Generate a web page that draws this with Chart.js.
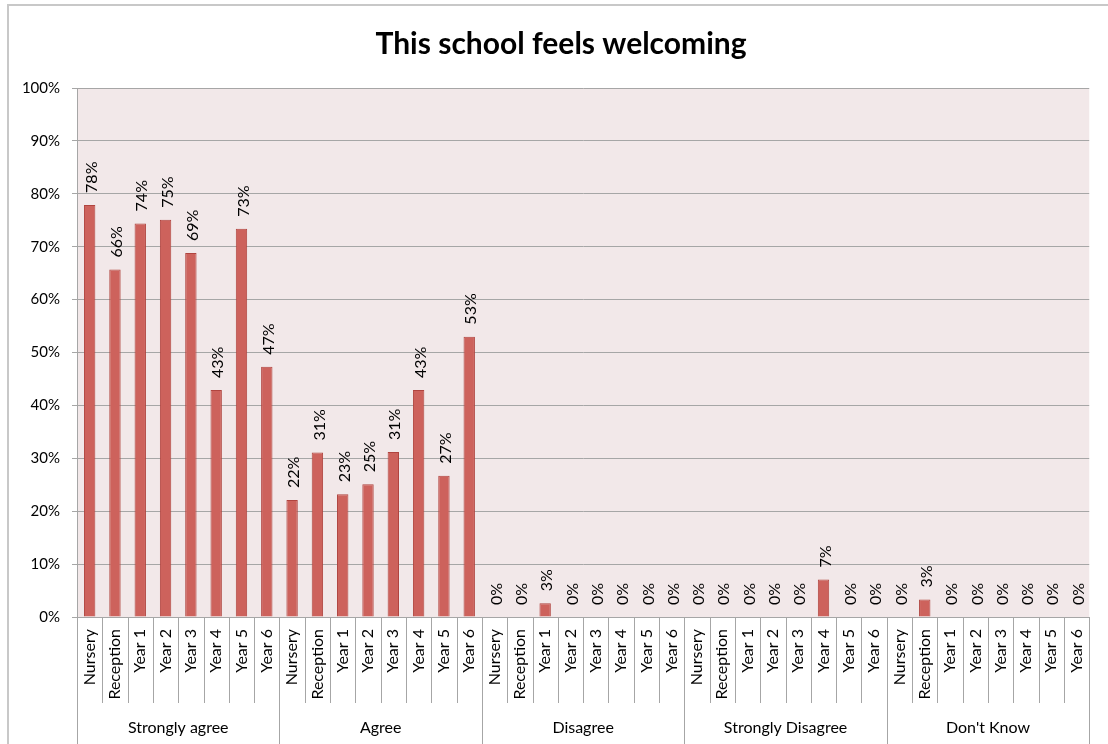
<!DOCTYPE html>
<html>
<head>
<meta charset="utf-8">
<script src="https://cdn.jsdelivr.net/npm/chart.js@4/dist/chart.umd.min.js"></script>
<style>
  html, body { margin: 0; padding: 0; background: #ffffff; overflow: hidden; }
  #wrap { position: relative; width: 1108px; height: 744px; }
  #frame { position: absolute; left: 7px; top: 4px; width: 1300px; height: 900px; border: 2px solid #C8C8C8; box-sizing: border-box; }
  canvas { position: absolute; left: 0; top: 0; }
</style>
</head>
<body>
<div id="wrap">
  <div id="frame"></div>
  <canvas id="c" width="1108" height="744"></canvas>
</div>
<script>
// ---- Data ----
const title = "This school feels welcoming";
const groups = ["Strongly agree", "Agree", "Disagree", "Strongly Disagree", "Don't Know"];
const years = ["Nursery", "Reception", "Year 1", "Year 2", "Year 3", "Year 4", "Year 5", "Year 6"];
const stronglyAgree   = [77.9, 65.7, 74.4, 75.1, 68.8, 42.9, 73.4, 47.3];
const agree           = [22.1, 31.1, 23.2, 25.1, 31.2, 42.9, 26.7, 53.0];
const disagree        = [0, 0, 2.6, 0, 0, 0, 0, 0];
const stronglyDisagree= [0, 0, 0, 0, 0, 7.1, 0, 0];
const dontKnow        = [0, 3.3, 0, 0, 0, 0, 0, 0];
const yTicks = [0, 10, 20, 30, 40, 50, 60, 70, 80, 90, 100];

const seriesByGroup = [stronglyAgree, agree, disagree, stronglyDisagree, dontKnow];
const labels = [];
const values = [];
seriesByGroup.forEach(arr => { years.forEach((y, i) => { labels.push(y); values.push(arr[i]); }); });

const FONT = "Lato, 'Open Sans', sans-serif";
const GRID = '#A6A6A6';

const titleShift = {
  id: 'titleShift',
  afterLayout(chart) {
    if (chart.titleBlock) { chart.titleBlock.left = 32; }
  }
};

const plotBg = {
  id: 'plotBg',
  beforeDraw(chart) {
    const { ctx, chartArea: a } = chart;
    ctx.save();
    ctx.fillStyle = '#F2E8E9';
    ctx.fillRect(a.left, a.top, a.right - a.left, a.bottom - a.top);
    ctx.restore();
  }
};

const separators = {
  id: 'separators',
  afterDraw(chart) {
    const { ctx, chartArea: a } = chart;
    const x = chart.scales.x;
    const n = labels.length;
    const w = (a.right - a.left) / n;
    ctx.save();
    ctx.strokeStyle = GRID;
    ctx.lineWidth = 1;
    for (let i = 0; i <= n; i++) {
      const px = Math.round(x.getPixelForValue(0) - w / 2 + i * w) + 0.5;
      const isGroup = i % years.length === 0;
      ctx.beginPath();
      ctx.moveTo(px, a.bottom);
      ctx.lineTo(px, isGroup ? chart.height : x.bottom);
      ctx.stroke();
    }
    ctx.restore();
  }
};

const dataLabels = {
  id: 'dataLabels',
  afterDatasetsDraw(chart) {
    const { ctx } = chart;
    const meta = chart.getDatasetMeta(0);
    ctx.save();
    ctx.fillStyle = '#000000';
    ctx.font = "16px " + FONT;
    ctx.textAlign = 'left';
    ctx.textBaseline = 'middle';
    meta.data.forEach((bar, i) => {
      const v = values[i];
      ctx.save();
      ctx.translate(bar.x + 2, bar.y - 12);
      ctx.rotate(-Math.PI / 2);
      ctx.fillText(Math.round(v) + '%', 0, 0);
      ctx.restore();
    });
    ctx.restore();
  }
};

new Chart(document.getElementById('c'), {
  type: 'bar',
  data: {
    labels: labels,
    datasets: [{
      data: values,
      backgroundColor: '#CD625C',
      borderColor: '#B0443F',
      borderWidth: 1,
      borderSkipped: 'start',
      barPercentage: 0.45,
      categoryPercentage: 1.0
    }]
  },
  options: {
    responsive: false,
    animation: false,
    devicePixelRatio: 1,
    layout: { padding: { left: 0, right: 18, top: 0, bottom: 0 } },
    plugins: {
      legend: { display: false },
      tooltip: { enabled: false },
      title: {
        display: true,
        text: title,
        color: '#000000',
        font: { family: FONT, size: 30, weight: 'bold' },
        padding: { top: 26, bottom: 26 }
      }
    },
    scales: {
      y: {
        min: 0, max: 100,
        afterBuildTicks(scale) { scale.ticks = yTicks.map(v => ({ value: v })); },
        afterFit(scale) { scale.width = 77; },
        ticks: {
          color: '#000000',
          font: { family: FONT, size: 15 },
          padding: 12,
          callback: v => v + '%'
        },
        grid: { color: GRID, lineWidth: 1, tickLength: 5, drawTicks: true },
        border: { display: true, color: GRID, width: 1 }
      },
      x: {
        weight: 0,
        offset: true,
        afterFit(scale) { scale.height = 86; },
        ticks: {
          color: '#000000',
          font: { family: FONT, size: 16 },
          minRotation: 90, maxRotation: 90,
          autoSkip: false,
          padding: 12
        },
        grid: { display: false, drawTicks: false },
        border: { display: true, color: GRID, width: 1 }
      },
      x2: {
        type: 'category',
        labels: groups,
        position: 'bottom',
        weight: 1,
        offset: true,
        afterFit(scale) { scale.height = 41; },
        ticks: {
          color: '#000000',
          font: { family: FONT, size: 16 },
          maxRotation: 0, minRotation: 0,
          autoSkip: false,
          padding: 15
        },
        grid: { display: false, drawTicks: false },
        border: { display: false }
      }
    }
  },
  plugins: [titleShift, plotBg, separators, dataLabels]
});
</script>
</body>
</html>
